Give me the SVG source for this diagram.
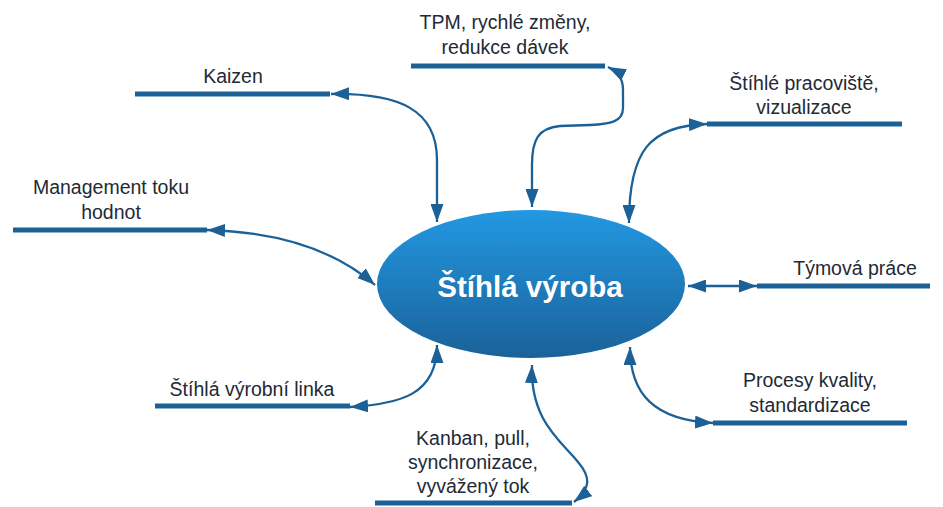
<svg xmlns="http://www.w3.org/2000/svg" width="943" height="507" viewBox="0 0 943 507">
  <defs>
    <linearGradient id="hubFill" x1="0" y1="0" x2="0" y2="1">
      <stop offset="0" stop-color="#2298e2"/>
      <stop offset="1" stop-color="#1b6199"/>
    </linearGradient>
    <marker id="head" viewBox="0 0 18 13" refX="18" refY="6.5" markerWidth="18" markerHeight="13" markerUnits="userSpaceOnUse" orient="auto-start-reverse">
      <path d="M0,0 L18,6.5 L0,13 z" fill="#1b6096"/>
    </marker>
    <style>
      .bar { fill: #1b6096; }
      .lbl { font-family: "Liberation Sans", Arial, sans-serif; font-size: 19.5px; fill: #222a35; text-anchor: middle; }
      .link { fill: none; stroke: #1b6096; stroke-width: 2.3; marker-start: url(#head); marker-end: url(#head); }
      .hub-text { font-family: "Liberation Sans", Arial, sans-serif; font-size: 29.5px; font-weight: bold; fill: #ffffff; text-anchor: middle; }
    </style>
  </defs>

  <rect width="943" height="507" fill="#ffffff"/>

  <!-- central topic -->
  <g id="hub">
    <ellipse cx="531" cy="284" rx="154" ry="74" fill="url(#hubFill)"/>
    <text class="hub-text" x="530" y="297">Štíhlá výroba</text>
  </g>

  <!-- satellite topics: label above a thick bar -->
  <g id="kaizen">
    <rect class="bar" x="135" y="91.5" width="195" height="5"/>
    <text class="lbl" x="233" y="83">Kaizen</text>
  </g>
  <g id="tpm">
    <rect class="bar" x="411" y="63.5" width="194" height="5"/>
    <text class="lbl" x="505" y="29">TPM, rychlé změny,</text>
    <text class="lbl" x="505" y="54">redukce dávek</text>
  </g>
  <g id="pracoviste">
    <rect class="bar" x="707" y="121.5" width="195" height="5"/>
    <text class="lbl" x="804" y="90">Štíhlé pracoviště,</text>
    <text class="lbl" x="804" y="114">vizualizace</text>
  </g>
  <g id="vsm">
    <rect class="bar" x="13" y="227.5" width="194" height="5"/>
    <text class="lbl" x="111" y="194">Management toku</text>
    <text class="lbl" x="111" y="219">hodnot</text>
  </g>
  <g id="tym">
    <rect class="bar" x="757" y="283.5" width="173" height="5"/>
    <text class="lbl" x="855" y="275">Týmová práce</text>
  </g>
  <g id="linka">
    <rect class="bar" x="155" y="403.5" width="195" height="5"/>
    <text class="lbl" x="252" y="396">Štíhlá výrobní linka</text>
  </g>
  <g id="kvalita">
    <rect class="bar" x="713" y="420.5" width="194" height="5"/>
    <text class="lbl" x="810" y="387">Procesy kvality,</text>
    <text class="lbl" x="810" y="412">standardizace</text>
  </g>
  <g id="kanban">
    <rect class="bar" x="375" y="500.5" width="197" height="5"/>
    <text class="lbl" x="473" y="445">Kanban, pull,</text>
    <text class="lbl" x="473" y="469">synchronizace,</text>
    <text class="lbl" x="473" y="493">vyvážený tok</text>
  </g>

  <!-- two-way connectors between the hub and each topic -->
  <g id="connectors">
    <path class="link" d="M331,94 C400,93 437,110 437,160 L437,222"/>
    <path class="link" d="M608,67 C618,72 623,78 623,90 L623,108 C623,122 610,124 590,125 L560,126 C538,128 532,140 532,165 L532,207"/>
    <path class="link" d="M707,124 C650,126 629,150 629,223"/>
    <path class="link" d="M207,230 C280,232 335,250 375,285"/>
    <path class="link" d="M688,286 L757,286"/>
    <path class="link" d="M350,407 C400,404 437,395 437,345"/>
    <path class="link" d="M630,347 C630,395 655,420 713,423"/>
    <path class="link" d="M532,365 C530,420 560,440 578,462 C590,476 592,488 574,502"/>
  </g>
</svg>
